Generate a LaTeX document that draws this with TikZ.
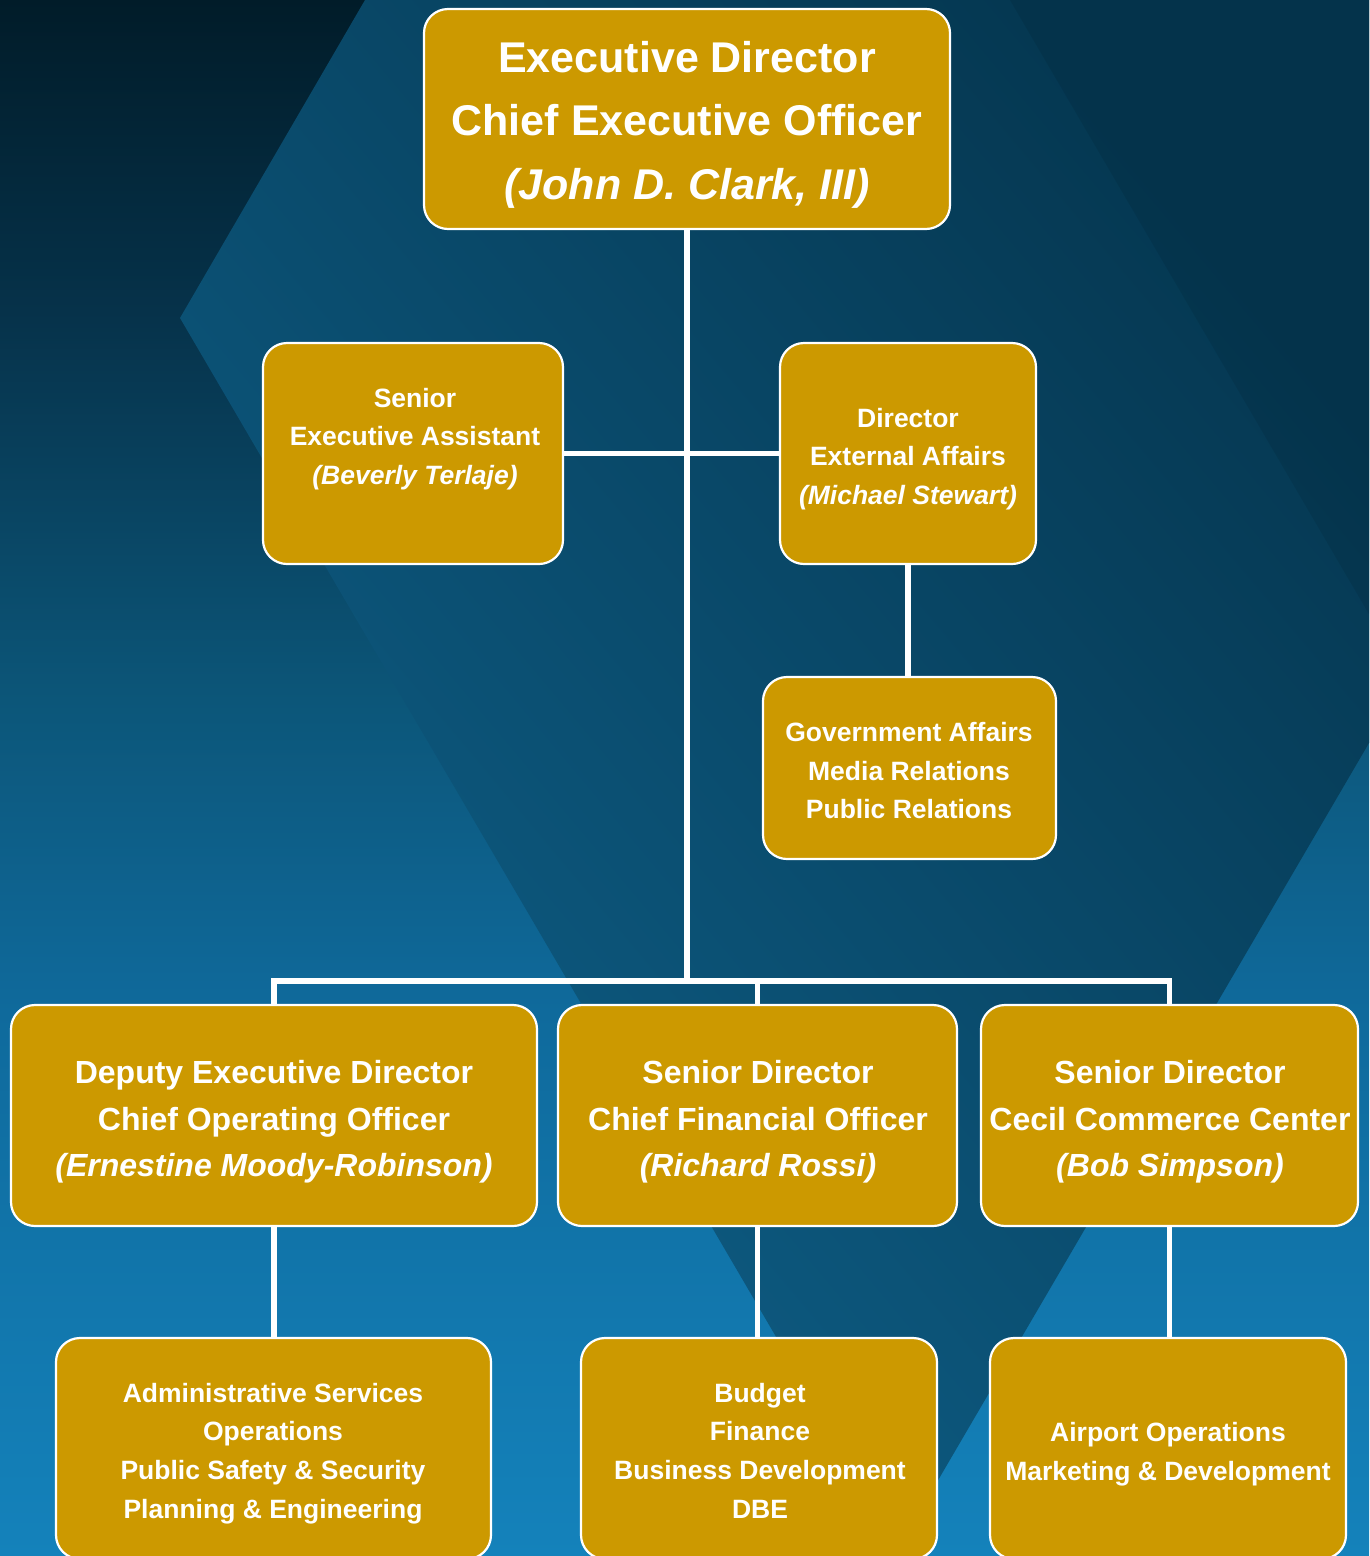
\documentclass[tikz,border=0pt]{standalone}
\usepackage{fontspec}
\setmainfont{Liberation Sans}
\definecolor{boxgold}{HTML}{CC9900}
\definecolor{bgA}{HTML}{1482BB}
\definecolor{bgB}{HTML}{0F6A9C}
\definecolor{bgC}{HTML}{0C5679}
\definecolor{bgD}{HTML}{06324A}
\definecolor{bgE}{HTML}{011C29}
\definecolor{polyLight}{HTML}{0F6089}
\definecolor{polyDark}{HTML}{053852}
% backdrop: dark at the top, bright blue at the bottom
\pgfdeclareverticalshading{backdrop}{100bp}{color(0bp)=(bgA); color(25bp)=(bgA); color(42.5bp)=(bgB); color(52.5bp)=(bgC); color(65bp)=(bgD); color(75bp)=(bgE); color(100bp)=(bgE)}

\begin{document}
\begin{tikzpicture}[x=1pt,y=-1pt,
  box/.style 2 args={draw=white, line width=2.2pt, fill=boxgold, rounded corners=24pt,
    inner sep=0pt, minimum width=#1, minimum height=#2},
  conn/.style={draw=white, line width=5.5pt, line join=miter},
  txt/.style={text=white, align=center, inner sep=0pt},
  bigtxt/.style={txt, font=\bfseries\fontsize{43}{63.5}\selectfont},
  midtxt/.style={txt, font=\bfseries\fontsize{32}{46.5}\selectfont},
  smalltxt/.style={txt, font=\bfseries\fontsize{26.5}{38.7}\selectfont},
]
\useasboundingbox (0,0) rectangle (1369,1556);
\clip (0,0) rectangle (1369,1556);

% background
\shade[shading=backdrop] (0,0) rectangle (1369,1556);
\shade[top color=polyDark, bottom color=polyLight, shading angle=-50]
  (365,0) -- (180,318) -- (899,1547) -- (1369,743) -- (1369,0) -- cycle;
\fill[black, opacity=0.08] (1010,0) -- (1369,614) -- (1369,0) -- cycle;

% boxes
\node[box={526}{220}] (ceo) at (687,119) {};
\node[box={300}{221}] (sea) at (413,453.5) {};
\node[box={256}{221}] (dea) at (908,453.5) {};
\node[box={293}{182}] (gov) at (909.5,768) {};
\node[box={526}{221}] (dep) at (274,1115.5) {};
\node[box={399}{221}] (cfo) at (757.5,1115.5) {};
\node[box={377}{221}] (cec) at (1169.5,1115.5) {};
\node[box={435}{221}] (adm) at (273.5,1448.5) {};
\node[box={356}{221}] (bud) at (759,1448.5) {};
\node[box={356}{221}] (air) at (1168,1448.5) {};

% box texts
\node[bigtxt] (ceoT) at (687,123) {\strut Executive Director\\\strut Chief Executive Officer\\\strut\itshape (John D. Clark, III)};
\node[smalltxt] (seaT) at (415,438) {\strut Senior\\\strut Executive Assistant\\\strut\itshape (Beverly Terlaje)};
\node[smalltxt] (deaT) at (908,458) {\strut Director\\\strut External Affairs\\\strut\itshape (Michael Stewart)};
\node[smalltxt] (govT) at (909,772.5) {\strut Government Affairs\\\strut Media Relations\\\strut Public Relations};
\node[midtxt] (depT) at (274,1121) {\strut Deputy Executive Director\\\strut Chief Operating Officer\\\strut\itshape (Ernestine Moody-Robinson)};
\node[midtxt] (cfoT) at (758,1121) {\strut Senior Director\\\strut Chief Financial Officer\\\strut\itshape (Richard Rossi)};
\node[midtxt] (cecT) at (1170,1121) {\strut Senior Director\\\strut Cecil Commerce Center\\\strut\itshape (Bob Simpson)};
\node[smalltxt] (admT) at (273,1452.5) {\strut Administrative Services\\\strut Operations\\\strut Public Safety \& Security\\\strut Planning \& Engineering};
\node[smalltxt] (budT) at (760,1452.5) {\strut Budget\\\strut Finance\\\strut Business Development\\\strut DBE};
\node[smalltxt] (airT) at (1168,1453) {\strut Airport Operations\\\strut Marketing \& Development};

% connectors
\coordinate (bus) at (0,981);
\draw[conn] (ceo.south) -- (ceo.south |- bus);
\draw[conn] (sea.east) -- (dea.west);
\draw[conn] (dea.south) -- (dea.south |- gov.north);
\draw[conn] (dep.north) -- (dep.north |- bus) -- (cec.north |- bus) -- (cec.north);
\draw[conn] (cfo.north) -- (cfo.north |- bus);
\draw[conn] (dep.south) -- (adm.north -| dep.south);
\draw[conn] (cfo.south) -- (bud.north -| cfo.south);
\draw[conn] (cec.south) -- (air.north -| cec.south);
\end{tikzpicture}
\end{document}
